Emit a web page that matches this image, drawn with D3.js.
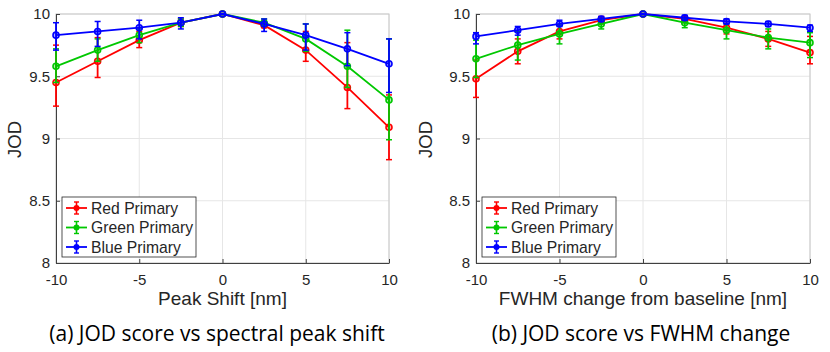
<!DOCTYPE html>
<html lang="en">
<head>
<meta charset="utf-8">
<title>JOD score charts</title>
<script src="https://cdn.jsdelivr.net/npm/d3@7"></script>
<style>
  body { margin: 0; background: #fff; }
  text { font-family: "Liberation Sans", Arial, sans-serif; fill: #262626; }
  .caption { font-family: "Open Sans", "Noto Sans", sans-serif; fill: #000; }
</style>
</head>
<body>
<script>
// x positions (nm)
var steps = [-10, -7.5, -5, -2.5, 0, 2.5, 5, 7.5, 10];
var xTicks = [-10, -5, 0, 5, 10];
var yTicks = [8, 8.5, 9, 9.5, 10];
var seriesNames = ["Red Primary", "Green Primary", "Blue Primary"];

// (a) peak shift
var shiftRed     = [9.45, 9.62, 9.79, 9.93, 10, 9.91, 9.71, 9.41, 9.09];
var shiftRedLo   = [9.26, 9.49, 9.73, 9.90, 10, 9.89, 9.62, 9.24, 8.83];
var shiftRedHi   = [9.75, 9.81, 9.86, 9.96, 10, 9.93, 9.86, 9.77, 9.35];
var shiftGreen   = [9.58, 9.71, 9.83, 9.93, 10, 9.93, 9.80, 9.58, 9.31];
var shiftGreenLo = [9.45, 9.62, 9.77, 9.90, 10, 9.90, 9.70, 9.41, 8.99];
var shiftGreenHi = [9.72, 9.80, 9.88, 9.96, 10, 9.96, 9.92, 9.87, 9.80];
var shiftBlue    = [9.83, 9.86, 9.89, 9.93, 10, 9.92, 9.83, 9.72, 9.60];
var shiftBlueLo  = [9.71, 9.74, 9.80, 9.88, 10, 9.86, 9.71, 9.585, 9.37];
var shiftBlueHi  = [9.93, 9.94, 9.95, 9.97, 10, 9.96, 9.92, 9.85, 9.80];

// (b) FWHM change
var fwhmRed     = [9.48, 9.70, 9.86, 9.95, 10, 9.96, 9.89, 9.80, 9.69];
var fwhmRedLo   = [9.33, 9.60, 9.80, 9.92, 10, 9.93, 9.84, 9.74, 9.60];
var fwhmRedHi   = [9.63, 9.80, 9.91, 9.98, 10, 9.98, 9.94, 9.86, 9.82];
var fwhmGreen   = [9.64, 9.75, 9.84, 9.92, 10, 9.93, 9.87, 9.81, 9.77];
var fwhmGreenLo = [9.49, 9.63, 9.76, 9.88, 10, 9.89, 9.80, 9.72, 9.65];
var fwhmGreenHi = [9.79, 9.86, 9.91, 9.96, 10, 9.96, 9.92, 9.88, 9.85];
var fwhmBlue    = [9.82, 9.87, 9.92, 9.96, 10, 9.97, 9.94, 9.92, 9.89];
var fwhmBlueLo  = [9.76, 9.83, 9.90, 9.94, 10, 9.95, 9.92, 9.90, 9.86];
var fwhmBlueHi  = [9.85, 9.90, 9.95, 9.98, 10, 9.99, 9.96, 9.94, 9.91];

var colors = ["#ff0000", "#00c800", "#0000ff"];

var w = 830, h = 352;
var svg = d3.select("body").append("svg").attr("width", w).attr("height", h);

var panels = [
  { left: 56, right: 389, jodX: 21, xLabel: "Peak Shift [nm]", caption: "(a) JOD score vs spectral peak shift", capX: 217,
    series: [[shiftRed, shiftRedLo, shiftRedHi], [shiftGreen, shiftGreenLo, shiftGreenHi], [shiftBlue, shiftBlueLo, shiftBlueHi]] },
  { left: 476, right: 810, jodX: 432, xLabel: "FWHM change from baseline [nm]", caption: "(b) JOD score vs FWHM change", capX: 641,
    series: [[fwhmRed, fwhmRedLo, fwhmRedHi], [fwhmGreen, fwhmGreenLo, fwhmGreenHi], [fwhmBlue, fwhmBlueLo, fwhmBlueHi]] }
];

var plotTop = 14, plotBottom = 263;

panels.forEach(function(p) {
  var x = d3.scaleLinear().domain([-10, 10]).range([p.left, p.right]);
  var y = d3.scaleLinear().domain([8, 10]).range([plotBottom, plotTop]);
  var g = svg.append("g");

  // grid
  g.selectAll(".gx").data(xTicks).enter().append("line")
    .attr("x1", function(d) { return x(d); }).attr("x2", function(d) { return x(d); })
    .attr("y1", plotTop).attr("y2", plotBottom)
    .attr("stroke", "#e6e6e6").attr("stroke-width", 1);
  g.selectAll(".gy").data(yTicks).enter().append("line")
    .attr("x1", p.left).attr("x2", p.right)
    .attr("y1", function(d) { return y(d); }).attr("y2", function(d) { return y(d); })
    .attr("stroke", "#e6e6e6").attr("stroke-width", 1);

  // box
  g.append("rect").attr("x", p.left).attr("y", plotTop)
    .attr("width", p.right - p.left).attr("height", plotBottom - plotTop)
    .attr("fill", "none").attr("stroke", "#c8c8c8").attr("stroke-width", 1);

  // axes
  var fmt = function(d) { return String(d); };
  var xAxis = d3.axisBottom(x).tickValues(xTicks).tickSizeInner(-4).tickSizeOuter(0).tickPadding(11).tickFormat(fmt);
  var yAxis = d3.axisLeft(y).tickValues(yTicks).tickSizeInner(-4).tickSizeOuter(0).tickPadding(6).tickFormat(fmt);
  var gx = g.append("g").attr("transform", "translate(0," + plotBottom + ")").call(xAxis);
  var gy = g.append("g").attr("transform", "translate(" + p.left + ",0)").call(yAxis);
  [gx, gy].forEach(function(a) {
    a.select(".domain").attr("stroke", "#404040").attr("stroke-width", 1);
    a.selectAll(".tick line").attr("stroke", "#404040");
    a.selectAll(".tick text").attr("font-size", "15px").attr("fill", "#262626")
      .style("font-family", "'Liberation Sans', Arial, sans-serif");
  });

  g.append("text").attr("x", (p.left + p.right) / 2).attr("y", 305)
    .attr("text-anchor", "middle").attr("font-size", "19px").text(p.xLabel);
  g.append("text").attr("transform", "translate(" + p.jodX + "," + ((plotTop + plotBottom) / 2 + 1) + ") rotate(-90)")
    .attr("text-anchor", "middle").attr("font-size", "18.5px").text("JOD");

  // series
  p.series.forEach(function(s, si) {
    var vals = s[0], lo = s[1], hi = s[2], c = colors[si];
    var line = d3.line().x(function(d, i) { return x(steps[i]); }).y(function(d) { return y(d); });
    g.append("path").datum(vals).attr("d", line)
      .attr("fill", "none").attr("stroke", c).attr("stroke-width", 1.8);
    var eb = g.selectAll(".eb" + si).data(steps).enter().append("g");
    eb.append("line")
      .attr("x1", function(d) { return x(d); }).attr("x2", function(d) { return x(d); })
      .attr("y1", function(d, i) { return y(lo[i]); }).attr("y2", function(d, i) { return y(hi[i]); })
      .attr("stroke", c).attr("stroke-width", 1.8);
    [lo, hi].forEach(function(arr) {
      eb.append("line")
        .attr("x1", function(d) { return x(d) - 3; }).attr("x2", function(d) { return x(d) + 3; })
        .attr("y1", function(d, i) { return y(arr[i]); }).attr("y2", function(d, i) { return y(arr[i]); })
        .attr("stroke", c).attr("stroke-width", 1.5);
    });
    g.selectAll(".pt" + si).data(vals).enter().append("circle")
      .attr("cx", function(d, i) { return x(steps[i]); })
      .attr("cy", function(d) { return y(d); })
      .attr("r", 3).attr("fill", c).attr("fill-opacity", 0.3)
      .attr("stroke", c).attr("stroke-width", 1.6);
  });

  // legend
  var lx = p.left + 6, ly = 197;
  var lg = g.append("g");
  lg.append("rect").attr("x", lx).attr("y", ly).attr("width", 134).attr("height", 60)
    .attr("fill", "#fff").attr("stroke", "#262626").attr("stroke-width", 0.8);
  seriesNames.forEach(function(name, i) {
    var yy = ly + 11 + i * 19.5, c = colors[i];
    lg.append("line").attr("x1", lx + 4).attr("x2", lx + 25).attr("y1", yy).attr("y2", yy)
      .attr("stroke", c).attr("stroke-width", 1.8);
    lg.append("line").attr("x1", lx + 14.5).attr("x2", lx + 14.5).attr("y1", yy - 6).attr("y2", yy + 6)
      .attr("stroke", c).attr("stroke-width", 1.6);
    lg.append("line").attr("x1", lx + 12).attr("x2", lx + 17).attr("y1", yy - 6).attr("y2", yy - 6)
      .attr("stroke", c).attr("stroke-width", 1.4);
    lg.append("line").attr("x1", lx + 12).attr("x2", lx + 17).attr("y1", yy + 6).attr("y2", yy + 6)
      .attr("stroke", c).attr("stroke-width", 1.4);
    lg.append("circle").attr("cx", lx + 14.5).attr("cy", yy).attr("r", 3).attr("fill", c);
    lg.append("text").attr("x", lx + 29).attr("y", yy + 5.5).attr("font-size", "15.7px").attr("fill", "#000").text(name);
  });

  svg.append("text").attr("class", "caption").attr("x", p.capX).attr("y", 341)
    .attr("text-anchor", "middle").attr("font-size", "21px").text(p.caption);
});
</script>
</body>
</html>
